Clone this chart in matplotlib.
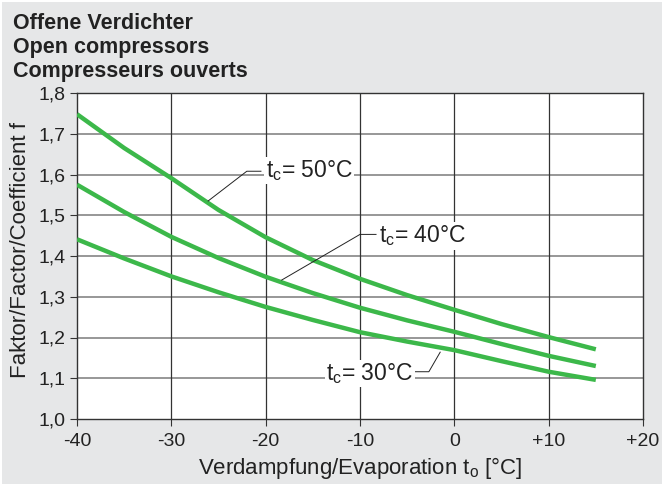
import matplotlib
matplotlib.use("Agg")
import matplotlib.pyplot as plt
from matplotlib.patches import Rectangle

plt.rcParams['font.family'] = ['Liberation Sans', 'DejaVu Sans']
plt.rcParams['mathtext.fontset'] = 'custom'
plt.rcParams['mathtext.rm'] = 'Liberation Sans'
plt.rcParams['mathtext.it'] = 'Liberation Sans'

# ---- data ----
evap = [-40, -35, -30, -25, -20, -15, -10, -5, 0, 5, 10, 15]
f_tc50 = [1.748, 1.665, 1.591, 1.513, 1.446, 1.390, 1.344, 1.304, 1.268, 1.233, 1.201, 1.171]
f_tc40 = [1.575, 1.508, 1.447, 1.395, 1.349, 1.309, 1.273, 1.242, 1.214, 1.184, 1.155, 1.130]
f_tc30 = [1.441, 1.394, 1.350, 1.311, 1.275, 1.243, 1.213, 1.190, 1.169, 1.142, 1.116, 1.096]

x_ticks = [-40, -30, -20, -10, 0, 10, 20]
x_ticklabels = ['-40', '-30', '-20', '-10', '0', '+10', '+20']
y_ticks = [1.0, 1.1, 1.2, 1.3, 1.4, 1.5, 1.6, 1.7, 1.8]
y_ticklabels = ['1,0', '1,1', '1,2', '1,3', '1,4', '1,5', '1,6', '1,7', '1,8']

labels = [r't$_\mathrm{c}$= 50°C', r't$_\mathrm{c}$= 40°C', r't$_\mathrm{c}$= 30°C']
label_pos = [(-20.0, 1.594), (-8.0, 1.433), (-13.6, 1.096)]
leaders = [
    ([-26.1, -22.0, -20.5], [1.535, 1.608, 1.608]),
    ([-18.3, -10.0, -8.3], [1.341, 1.453, 1.453]),
    ([-1.5, -2.7, -4.3], [1.164, 1.116, 1.116]),
]

title_lines = ['Offene Verdichter', 'Open compressors', 'Compresseurs ouverts']

bg = '#e6e7e8'
green = '#3cb84a'
ink = '#222222'

W, H = 662, 487
fig = plt.figure(figsize=(W / 100, H / 100), dpi=100)
fig.patch.set_facecolor('white')
fig.patches.append(Rectangle((2 / W, 3 / H), 1, 1 - 5 / H, transform=fig.transFigure,
                             facecolor=bg, edgecolor='none', zorder=-10))

ax = fig.add_axes([77 / W, 1 - 419 / H, (643 - 77) / W, (419 - 93) / H])
ax.set_facecolor('white')
ax.set_xlim(-40, 20)
ax.set_ylim(1.0, 1.8)

for yv in y_ticks[1:-1]:
    ax.axhline(yv, color='#7a7a7a', lw=1.1, zorder=1)
for xv in x_ticks[1:-1]:
    ax.axvline(xv, color='#333333', lw=0.9, zorder=1)

for ys in (f_tc50, f_tc40, f_tc30):
    ax.plot(evap, ys, color=green, lw=3.2, solid_capstyle='butt', zorder=3)

for lx, ly in leaders:
    ax.plot(lx, ly, color=ink, lw=0.7, zorder=4)

for txt, (tx, ty) in zip(labels, label_pos):
    ax.text(tx, ty, txt, fontsize=16.5, color=ink, ha='left', va='baseline', zorder=5,
            bbox=dict(facecolor='white', edgecolor='none', pad=1.0))

ax.set_xticks(x_ticks)
ax.set_xticklabels(x_ticklabels)
ax.set_yticks(y_ticks)
ax.set_yticklabels(y_ticklabels)
ax.tick_params(axis='both', labelsize=14, length=5, width=0.8, color='#333333',
               labelcolor=ink, pad=3)
ax.tick_params(axis='x', pad=5)
for s in ax.spines.values():
    s.set_color('#333333')
    s.set_linewidth(1.0)

ax.set_xlabel(r'Verdampfung/Evaporation t$_\mathrm{o}$ [°C]', fontsize=16, color=ink)
ax.set_ylabel('Faktor/Factor/Coefficient f', fontsize=16, color=ink)
ax.xaxis.label.set_va('center')
ax.yaxis.label.set_va('center')
ax.xaxis.set_label_coords((360 - 77) / 566, (419 - 468) / 326)
ax.yaxis.set_label_coords((21 - 77) / 566, (419 - 250) / 326)

for i, line in enumerate(title_lines):
    fig.text(13 / W, 1 - (29 + 24 * i) / H, line, fontsize=15.5, fontweight='bold',
             color=ink, ha='left', va='baseline')

fig.savefig('out.png', dpi=100, facecolor=fig.get_facecolor())
